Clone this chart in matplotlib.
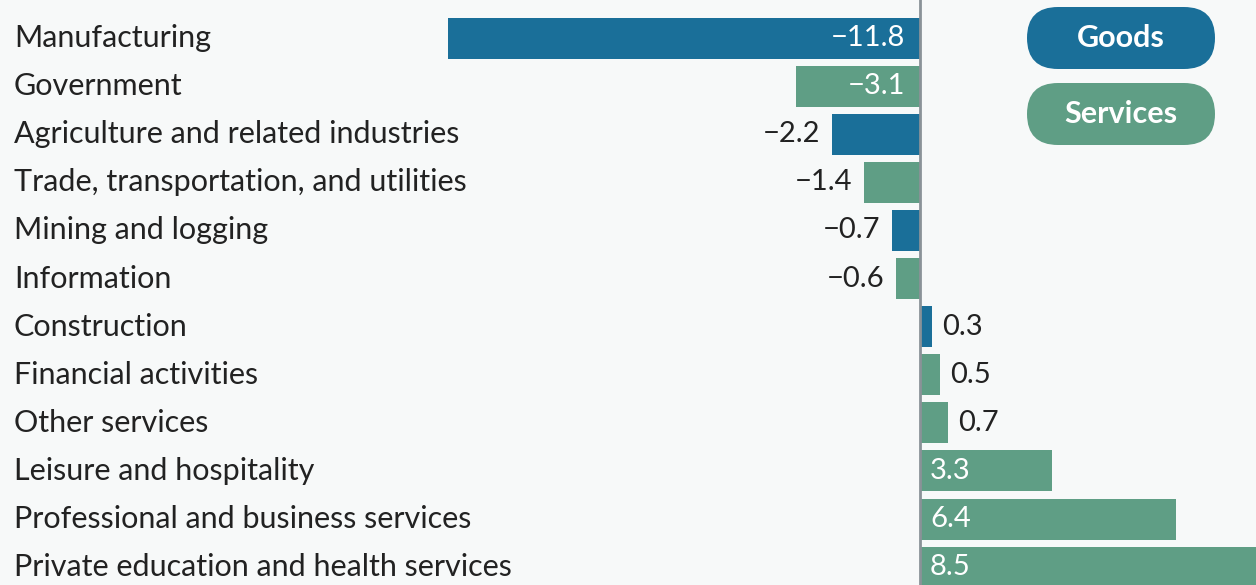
import matplotlib
matplotlib.use("Agg")
import matplotlib.pyplot as plt
from matplotlib.patches import FancyBboxPatch

# data (percent change), top to bottom
CATS = ["Manufacturing", "Government", "Agriculture and related industries",
        "Trade, transportation, and utilities", "Mining and logging", "Information",
        "Construction", "Financial activities", "Other services",
        "Leisure and hospitality", "Professional and business services",
        "Private education and health services"]
VALUES = [-11.8, -3.1, -2.2, -1.4, -0.7, -0.6, 0.3, 0.5, 0.7, 3.3, 6.4, 8.5]
SECTOR = ["Goods", "Services", "Goods", "Services", "Goods", "Services",
          "Goods", "Services", "Services", "Services", "Services", "Services"]

COL = {"Goods": "#1a6f99", "Services": "#5f9e85"}
BG = "#f7f9f9"
TXT = "#222222"
FONT = ["Lato", "DejaVu Sans"]
plt.rcParams["font.family"] = FONT

W, H = 1256, 585
fig = plt.figure(figsize=(W / 100, H / 100), dpi=100, facecolor=BG)
ax = fig.add_axes([0, 0, 1, 1], facecolor=BG)

# 40 px per unit, zero at x=920; row pitch ~48 px, first centre at y=38
ppu, x0 = 40.0, 920.0
pitch, y0 = 48.1, 38.0
ax.set_xlim(-x0 / ppu, (W - x0) / ppu)
ax.set_ylim((H - y0) / pitch, -y0 / pitch)
ax.axis("off")

ys = range(len(CATS))
ax.barh(list(ys), VALUES, height=41 / pitch, color=[COL[s] for s in SECTOR], zorder=2)
ax.axvline(0, color="#8a9298", lw=2, zorder=3)

for i, (c, v) in enumerate(zip(CATS, VALUES)):
    ax.text(14 / ppu - x0 / ppu, i, c, ha="left", va="center", fontsize=22, color=TXT)
    lab = f"{v:.1f}".replace("-", "\u2212")
    if abs(v) >= 3:
        if v < 0:
            ax.text(-15 / ppu, i, lab, ha="right", va="center", fontsize=21, color="white", zorder=4)
        else:
            ax.text(10 / ppu, i, lab, ha="left", va="center", fontsize=21, color="white", zorder=4)
    else:
        if v < 0:
            ax.text(v - 12 / ppu, i, lab, ha="right", va="center", fontsize=21, color=TXT)
        else:
            ax.text(v + 10 / ppu, i, lab, ha="left", va="center", fontsize=21, color=TXT)

# legend pills in pixel coords
lax = fig.add_axes([0, 0, 1, 1], facecolor="none")
lax.set_xlim(0, W); lax.set_ylim(H, 0); lax.axis("off")
for name, top in [("Goods", 7), ("Services", 83)]:
    lax.add_patch(FancyBboxPatch((1027, top), 188, 62, boxstyle="round,pad=0,rounding_size=31",
                                 facecolor=COL[name], edgecolor="none"))
    lax.text(1121, top + 31, name, ha="center", va="center", fontsize=22,
             fontweight="bold", color="white")

fig.savefig("out.png", dpi=100, facecolor=BG)
